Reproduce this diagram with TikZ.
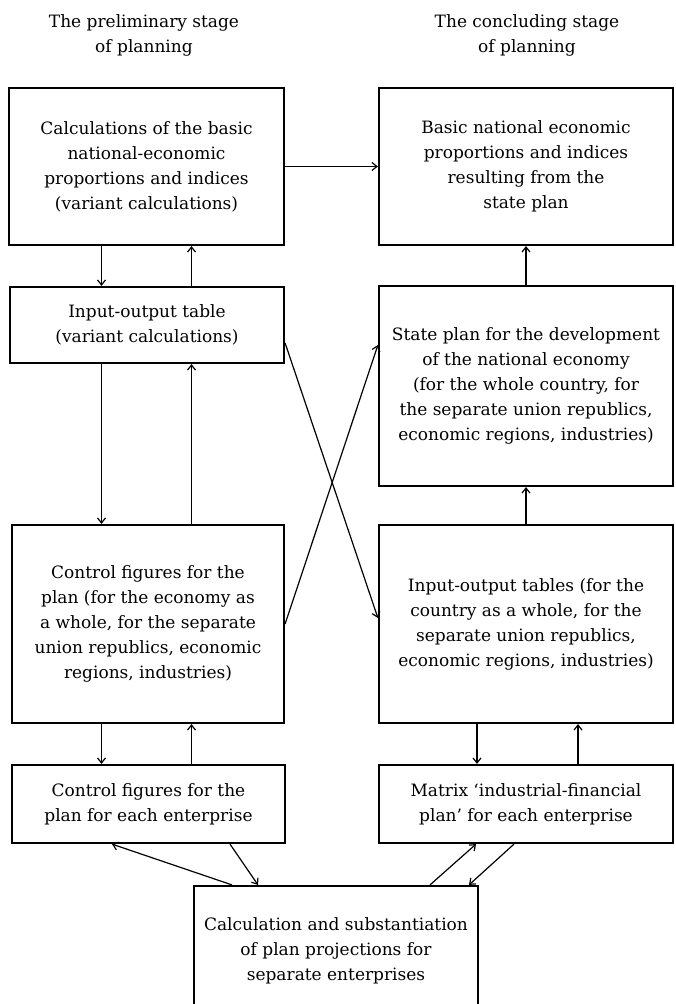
\documentclass[tikz,border=0pt]{standalone}
\usepackage{fontspec}
\setmainfont{DejaVu Serif}
\usepackage{tikz}
\usetikzlibrary{arrows.meta,positioning}

\tikzset{
  blk/.style={draw, line width=2.2pt, align=center, inner sep=2pt},
  flow/.style={line width=1.2pt, ->},
  head/.style={align=center}
}

\begin{document}
\begin{tikzpicture}[x=1pt, y=-1pt, >={Straight Barb[length=5pt,width=8pt]},
  font=\fontsize{17}{25}\selectfont]
\useasboundingbox (0,0) rectangle (675,1004);
% column headings
\node[head] (hl) at (144,35) {The preliminary stage\\of planning};
\node[head] (hr) at (527,35) {The concluding stage\\of planning};

% preliminary stage (left column)
\node[blk, minimum width=275pt, minimum height=157pt] (calc) at (146.5,166.5)
  {Calculations of the basic\\national-economic\\proportions and indices\\(variant calculations)};
\node[blk, minimum width=274pt, minimum height=76pt] (io) at (147,325)
  {Input-output table\\(variant calculations)};
\node[blk, minimum width=272pt, minimum height=198pt] (ctrl) at (148,624)
  {Control figures for the\\plan (for the economy as\\a whole, for the separate\\union republics, economic\\regions, industries)};
\node[blk, minimum width=273pt, minimum height=78pt] (ctrlent) at (148.5,804)
  {Control figures for the\\plan for each enterprise};

% concluding stage (right column)
\node[blk, minimum width=294pt, minimum height=157pt] (basic) at (526,166.5)
  {Basic national economic\\proportions and indices\\resulting from the\\state plan};
\node[blk, minimum width=294pt, minimum height=200pt] (state) at (526,386)
  {State plan for the development\\of the national economy\\(for the whole country, for\\the separate union republics,\\economic regions, industries)};
\node[blk, minimum width=294pt, minimum height=198pt] (iot) at (526,624)
  {Input-output tables (for the\\country as a whole, for the\\separate union republics,\\economic regions, industries)};
\node[blk, minimum width=294pt, minimum height=78pt] (matrix) at (526,804)
  {Matrix `industrial-financial\\plan' for each enterprise};

% enterprise level
\node[blk, minimum width=284pt, minimum height=130pt] (subst) at (336,951)
  {Calculation and substantiation\\of plan projections for\\separate enterprises};

% links
\draw[flow] (calc.east) -- (basic.west);
\draw[flow] ([xshift=-45pt]calc.south) -- ([xshift=-45pt]calc.south |- io.north);
\draw[flow] ([xshift=45pt]calc.south |- io.north) -- ([xshift=45pt]calc.south);
\draw[flow] ([xshift=-45pt]calc.south |- io.south) -- ([xshift=-45pt]calc.south |- ctrl.north);
\draw[flow] ([xshift=45pt]calc.south |- ctrl.north) -- ([xshift=45pt]calc.south |- io.south);
\draw[flow] ([xshift=-45pt]calc.south |- ctrl.south) -- ([xshift=-45pt]calc.south |- ctrlent.north);
\draw[flow] ([xshift=45pt]calc.south |- ctrlent.north) -- ([xshift=45pt]calc.south |- ctrl.south);
\draw[flow] (state.north) -- (basic.south);
\draw[flow] (iot.north) -- (state.south);
\draw[flow] ([xshift=-49pt]iot.south) -- ([xshift=-49pt]matrix.north);
\draw[flow] ([xshift=52pt]matrix.north) -- ([xshift=52pt]iot.south);
% crossing links
\draw[flow] ([yshift=-18pt]io.east) -- ([yshift=6pt]iot.west);
\draw[flow] (ctrl.east) -- ([yshift=41pt]state.west);
% links to the enterprise calculation
\draw[flow] ([xshift=-104pt]subst.north) -- ([xshift=-36.5pt]ctrlent.south);
\draw[flow] ([xshift=81.5pt]ctrlent.south) -- ([xshift=-78pt]subst.north);
\draw[flow] ([xshift=94pt]subst.north) -- ([xshift=-50pt]matrix.south);
\draw[flow] ([xshift=-12pt]matrix.south) -- ([xshift=133pt]subst.north);
\end{tikzpicture}
\end{document}
